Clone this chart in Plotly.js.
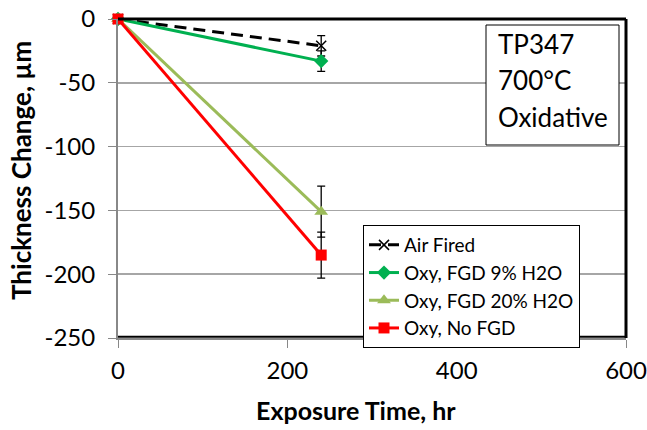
<!DOCTYPE html>
<html>
<head>
<meta charset="utf-8">
<script src="https://cdn.plot.ly/plotly-3.0.1.min.js"></script>
<style>html,body{margin:0;padding:0;background:#fff;}#chart{width:647px;height:430px;}</style>
</head>
<body>
<div id="chart"></div>
<script>
const seriesNames = ["Air Fired", "Oxy, FGD 9% H2O", "Oxy, FGD 20% H2O", "Oxy, No FGD"];
const timeHr = [0, 240];
const airFired = [0, -21];
const airFiredErr = [0, 8];
const oxyFgd9 = [0, -33];
const oxyFgd9Err = [0, 8];
const oxyFgd20 = [0, -151];
const oxyFgd20Err = [0, 20];
const oxyNoFgd = [0, -185];
const oxyNoFgdErr = [0, 18];
const xTicks = [0, 200, 400, 600];
const yTicks = [0, -50, -100, -150, -200, -250];
const yTickText = ["0", "-50", "-100", "-150", "-200", "-250"];
const boxLines = ["TP347", "700°C", "Oxidative"];
const xTitle = "Exposure Time, hr";
const yTitle = "Thickness Change, µm";

const FONT = "Lato, 'Noto Sans', sans-serif";
function errBar(arr) {
  return {type: "data", array: arr, visible: true, color: "#000", thickness: 1.3, width: 4};
}
const traces = [
  {x: timeHr, y: airFired, name: seriesNames[0], mode: "lines+markers", cliponaxis: false,
   line: {color: "#000", width: 3, dash: "12px,7px"},
   marker: {symbol: "x-thin", size: 10, line: {color: "#000", width: 1.5}, color: "#000"},
   error_y: errBar(airFiredErr)},
  {x: timeHr, y: oxyFgd9, name: seriesNames[1], mode: "lines+markers", cliponaxis: false,
   line: {color: "#00B050", width: 3},
   marker: {symbol: "diamond", size: 11, color: "#00B050"},
   error_y: errBar(oxyFgd9Err)},
  {x: timeHr, y: oxyFgd20, name: seriesNames[2], mode: "lines+markers", cliponaxis: false,
   line: {color: "#9BBB59", width: 3},
   marker: {symbol: "triangle-up", size: 12, color: "#9BBB59"},
   error_y: errBar(oxyFgd20Err)},
  {x: timeHr, y: oxyNoFgd, name: seriesNames[3], mode: "lines+markers", cliponaxis: false,
   line: {color: "#FF0000", width: 3},
   marker: {symbol: "square", size: 11, color: "#FF0000"},
   error_y: errBar(oxyNoFgdErr)}
];

const annotations = boxLines.map((t, i) => ({
  xref: "paper", yref: "paper", x: (496 - 118) / 508, y: (338 - (44 + i * 36.5)) / 319,
  xanchor: "left", yanchor: "middle", text: t, showarrow: false,
  font: {family: FONT, size: 26, color: "#000"}
}));
annotations.push({
  xref: "paper", yref: "paper", x: (356 - 118) / 508, y: (338 - 410) / 319,
  xanchor: "center", yanchor: "middle", text: "<b>" + xTitle + "</b>", showarrow: false,
  font: {family: FONT, size: 25, color: "#000"}
});
annotations.push({
  xref: "paper", yref: "paper", x: (21 - 118) / 508, y: (338 - 171) / 319,
  xanchor: "center", yanchor: "middle", text: "<b>" + yTitle + "</b>", showarrow: false,
  textangle: -90, font: {family: FONT, size: 26, color: "#000"}
});

const layout = {
  width: 647, height: 430,
  margin: {l: 118, r: 21, t: 19, b: 92},
  paper_bgcolor: "#fff", plot_bgcolor: "#fff",
  font: {family: FONT, color: "#000"},
  showlegend: true,
  legend: {x: (363 - 118) / 508, y: (338 - 225) / 319, xanchor: "left", yanchor: "top",
    bgcolor: "#fff", bordercolor: "#000", borderwidth: 1,
    font: {family: FONT, size: 19, color: "#000"}, tracegroupgap: 0, itemwidth: 30},
  xaxis: {range: [0, 600], tickvals: xTicks, ticks: "outside", ticklen: 8,
    tickcolor: "#888", showline: true, linecolor: "#888", linewidth: 2, showgrid: false,
    zeroline: false, tickfont: {size: 24}, fixedrange: true, ticklabelstandoff: 2},
  yaxis: {range: [-250, 0], tickvals: yTicks, ticktext: yTickText, ticks: "outside", ticklen: 8,
    tickcolor: "#888", showline: true, linecolor: "#888", linewidth: 2, showgrid: true,
    gridcolor: "#A6A6A6", gridwidth: 1.5, zeroline: false, tickfont: {size: 24}, fixedrange: true,
    ticklabelstandoff: 8},
  shapes: [
    {type: "line", xref: "paper", yref: "paper", x0: 0, x1: 1, y0: 1, y1: 1, line: {color: "#000", width: 3}},
    {type: "line", xref: "paper", yref: "paper", x0: 1, x1: 1, y0: 0, y1: 1, line: {color: "#000", width: 3}},
    {type: "line", xref: "paper", yref: "paper", x0: 0, x1: 1, y0: 0.004, y1: 0.004, line: {color: "#000", width: 2}},
    {type: "rect", xref: "paper", yref: "paper", x0: (486 - 118) / 508, x1: (619 - 118) / 508,
     y0: (338 - 145) / 319, y1: (338 - 25) / 319, line: {color: "#000", width: 1}, fillcolor: "#fff", layer: "above"}
  ],
  annotations: annotations
};
Plotly.newPlot("chart", traces, layout, {displayModeBar: false, staticPlot: true});
</script>
</body>
</html>
